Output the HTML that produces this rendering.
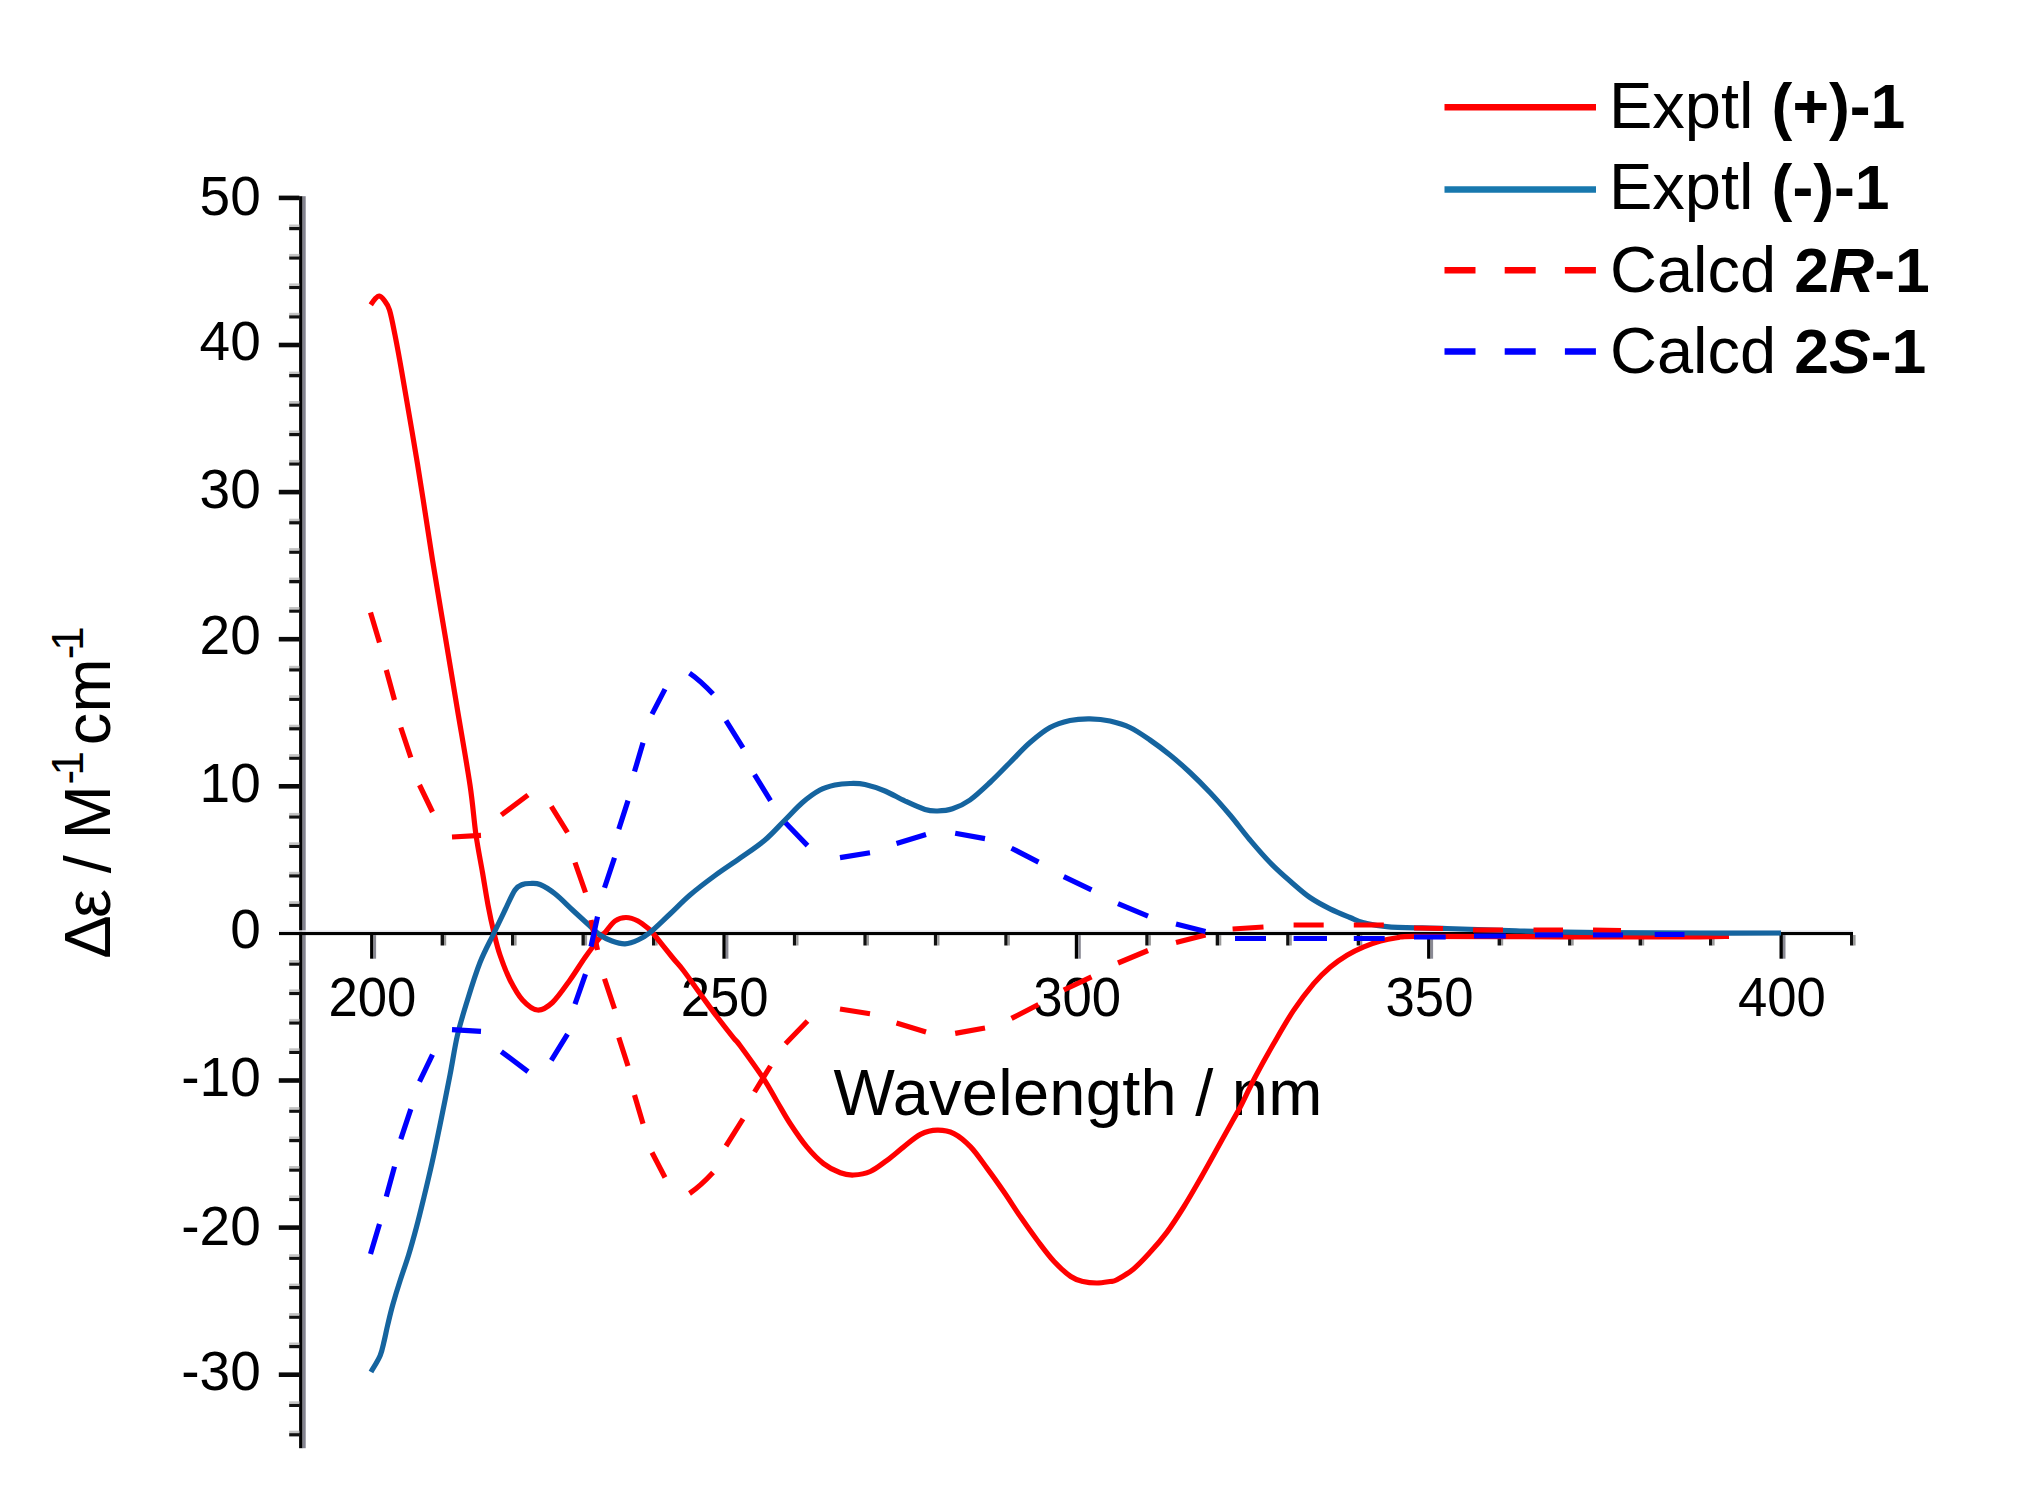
<!DOCTYPE html>
<html><head><meta charset="utf-8"><title>ECD spectra</title>
<style>
html,body{margin:0;padding:0;background:#fff;}
body{width:2039px;height:1496px;overflow:hidden;}
svg{display:block;}
text{font-family:"Liberation Sans",Arial,sans-serif;fill:#000;}
.tk{font-size:54px;}
.tky{font-size:55px;}
.lb{font-size:65px;}
.b{font-weight:bold;font-size:62.5px;}
.bi{font-weight:bold;font-style:italic;font-size:62.5px;}
</style></head>
<body>
<svg width="2039" height="1496" viewBox="0 0 2039 1496">
<rect width="2039" height="1496" fill="#fff"/>
<g id="chart">
<g id="axes">
<rect x="299.1" y="196.2" width="3.5" height="1252.0" fill="#000"/>
<rect x="302.6" y="196.2" width="3.1" height="1252.0" fill="#83838f"/>
<rect x="279" y="931.8" width="1574.0" height="3.3" fill="#000"/>
<rect x="279" y="930.3" width="1574.0" height="1.5" fill="#ececf2"/>
<rect x="289.2" y="1433.1" width="10.2" height="3.3" fill="#111"/><rect x="289.2" y="1430.7" width="10.2" height="2.4" fill="#c4c4c4"/><rect x="289.2" y="1403.7" width="10.2" height="3.3" fill="#111"/><rect x="289.2" y="1401.3" width="10.2" height="2.4" fill="#c4c4c4"/><rect x="278.8" y="1372.4" width="20.6" height="4.6" fill="#0a0a0a"/><rect x="289.2" y="1344.9" width="10.2" height="3.3" fill="#111"/><rect x="289.2" y="1342.5" width="10.2" height="2.4" fill="#c4c4c4"/><rect x="289.2" y="1315.5" width="10.2" height="3.3" fill="#111"/><rect x="289.2" y="1313.1" width="10.2" height="2.4" fill="#c4c4c4"/><rect x="289.2" y="1286.0" width="10.2" height="3.3" fill="#111"/><rect x="289.2" y="1283.6" width="10.2" height="2.4" fill="#c4c4c4"/><rect x="289.2" y="1256.6" width="10.2" height="3.3" fill="#111"/><rect x="289.2" y="1254.2" width="10.2" height="2.4" fill="#c4c4c4"/><rect x="278.8" y="1225.3" width="20.6" height="4.6" fill="#0a0a0a"/><rect x="289.2" y="1197.8" width="10.2" height="3.3" fill="#111"/><rect x="289.2" y="1195.4" width="10.2" height="2.4" fill="#c4c4c4"/><rect x="289.2" y="1168.4" width="10.2" height="3.3" fill="#111"/><rect x="289.2" y="1166.0" width="10.2" height="2.4" fill="#c4c4c4"/><rect x="289.2" y="1138.9" width="10.2" height="3.3" fill="#111"/><rect x="289.2" y="1136.5" width="10.2" height="2.4" fill="#c4c4c4"/><rect x="289.2" y="1109.5" width="10.2" height="3.3" fill="#111"/><rect x="289.2" y="1107.1" width="10.2" height="2.4" fill="#c4c4c4"/><rect x="278.8" y="1078.2" width="20.6" height="4.6" fill="#0a0a0a"/><rect x="289.2" y="1050.7" width="10.2" height="3.3" fill="#111"/><rect x="289.2" y="1048.3" width="10.2" height="2.4" fill="#c4c4c4"/><rect x="289.2" y="1021.3" width="10.2" height="3.3" fill="#111"/><rect x="289.2" y="1018.9" width="10.2" height="2.4" fill="#c4c4c4"/><rect x="289.2" y="991.8" width="10.2" height="3.3" fill="#111"/><rect x="289.2" y="989.4" width="10.2" height="2.4" fill="#c4c4c4"/><rect x="289.2" y="962.4" width="10.2" height="3.3" fill="#111"/><rect x="289.2" y="960.0" width="10.2" height="2.4" fill="#c4c4c4"/><rect x="289.2" y="903.6" width="10.2" height="3.3" fill="#111"/><rect x="289.2" y="901.2" width="10.2" height="2.4" fill="#c4c4c4"/><rect x="289.2" y="874.2" width="10.2" height="3.3" fill="#111"/><rect x="289.2" y="871.8" width="10.2" height="2.4" fill="#c4c4c4"/><rect x="289.2" y="844.7" width="10.2" height="3.3" fill="#111"/><rect x="289.2" y="842.3" width="10.2" height="2.4" fill="#c4c4c4"/><rect x="289.2" y="815.3" width="10.2" height="3.3" fill="#111"/><rect x="289.2" y="812.9" width="10.2" height="2.4" fill="#c4c4c4"/><rect x="278.8" y="784.0" width="20.6" height="4.6" fill="#0a0a0a"/><rect x="289.2" y="756.5" width="10.2" height="3.3" fill="#111"/><rect x="289.2" y="754.1" width="10.2" height="2.4" fill="#c4c4c4"/><rect x="289.2" y="727.1" width="10.2" height="3.3" fill="#111"/><rect x="289.2" y="724.7" width="10.2" height="2.4" fill="#c4c4c4"/><rect x="289.2" y="697.6" width="10.2" height="3.3" fill="#111"/><rect x="289.2" y="695.2" width="10.2" height="2.4" fill="#c4c4c4"/><rect x="289.2" y="668.2" width="10.2" height="3.3" fill="#111"/><rect x="289.2" y="665.8" width="10.2" height="2.4" fill="#c4c4c4"/><rect x="278.8" y="636.9" width="20.6" height="4.6" fill="#0a0a0a"/><rect x="289.2" y="609.4" width="10.2" height="3.3" fill="#111"/><rect x="289.2" y="607.0" width="10.2" height="2.4" fill="#c4c4c4"/><rect x="289.2" y="580.0" width="10.2" height="3.3" fill="#111"/><rect x="289.2" y="577.6" width="10.2" height="2.4" fill="#c4c4c4"/><rect x="289.2" y="550.5" width="10.2" height="3.3" fill="#111"/><rect x="289.2" y="548.1" width="10.2" height="2.4" fill="#c4c4c4"/><rect x="289.2" y="521.1" width="10.2" height="3.3" fill="#111"/><rect x="289.2" y="518.7" width="10.2" height="2.4" fill="#c4c4c4"/><rect x="278.8" y="489.8" width="20.6" height="4.6" fill="#0a0a0a"/><rect x="289.2" y="462.3" width="10.2" height="3.3" fill="#111"/><rect x="289.2" y="459.9" width="10.2" height="2.4" fill="#c4c4c4"/><rect x="289.2" y="432.9" width="10.2" height="3.3" fill="#111"/><rect x="289.2" y="430.5" width="10.2" height="2.4" fill="#c4c4c4"/><rect x="289.2" y="403.4" width="10.2" height="3.3" fill="#111"/><rect x="289.2" y="401.0" width="10.2" height="2.4" fill="#c4c4c4"/><rect x="289.2" y="374.0" width="10.2" height="3.3" fill="#111"/><rect x="289.2" y="371.6" width="10.2" height="2.4" fill="#c4c4c4"/><rect x="278.8" y="342.7" width="20.6" height="4.6" fill="#0a0a0a"/><rect x="289.2" y="315.2" width="10.2" height="3.3" fill="#111"/><rect x="289.2" y="312.8" width="10.2" height="2.4" fill="#c4c4c4"/><rect x="289.2" y="285.8" width="10.2" height="3.3" fill="#111"/><rect x="289.2" y="283.4" width="10.2" height="2.4" fill="#c4c4c4"/><rect x="289.2" y="256.3" width="10.2" height="3.3" fill="#111"/><rect x="289.2" y="253.9" width="10.2" height="2.4" fill="#c4c4c4"/><rect x="289.2" y="226.9" width="10.2" height="3.3" fill="#111"/><rect x="289.2" y="224.5" width="10.2" height="2.4" fill="#c4c4c4"/><rect x="278.8" y="195.6" width="20.6" height="4.6" fill="#0a0a0a"/>
<rect x="370.1" y="935" width="3.4" height="23.7" fill="#000"/><rect x="373.5" y="935" width="2.6" height="23.7" fill="#8a8a94"/><rect x="440.6" y="935" width="3.4" height="10.5" fill="#111"/><rect x="444.0" y="935" width="2.2" height="10.5" fill="#9a9a9a"/><rect x="511.0" y="935" width="3.4" height="10.5" fill="#111"/><rect x="514.4" y="935" width="2.2" height="10.5" fill="#9a9a9a"/><rect x="581.5" y="935" width="3.4" height="10.5" fill="#111"/><rect x="584.9" y="935" width="2.2" height="10.5" fill="#9a9a9a"/><rect x="652.0" y="935" width="3.4" height="10.5" fill="#111"/><rect x="655.4" y="935" width="2.2" height="10.5" fill="#9a9a9a"/><rect x="722.4" y="935" width="3.4" height="23.7" fill="#000"/><rect x="725.8" y="935" width="2.6" height="23.7" fill="#8a8a94"/><rect x="792.9" y="935" width="3.4" height="10.5" fill="#111"/><rect x="796.3" y="935" width="2.2" height="10.5" fill="#9a9a9a"/><rect x="863.4" y="935" width="3.4" height="10.5" fill="#111"/><rect x="866.8" y="935" width="2.2" height="10.5" fill="#9a9a9a"/><rect x="933.9" y="935" width="3.4" height="10.5" fill="#111"/><rect x="937.3" y="935" width="2.2" height="10.5" fill="#9a9a9a"/><rect x="1004.3" y="935" width="3.4" height="10.5" fill="#111"/><rect x="1007.7" y="935" width="2.2" height="10.5" fill="#9a9a9a"/><rect x="1074.8" y="935" width="3.4" height="23.7" fill="#000"/><rect x="1078.2" y="935" width="2.6" height="23.7" fill="#8a8a94"/><rect x="1145.3" y="935" width="3.4" height="10.5" fill="#111"/><rect x="1148.7" y="935" width="2.2" height="10.5" fill="#9a9a9a"/><rect x="1215.7" y="935" width="3.4" height="10.5" fill="#111"/><rect x="1219.1" y="935" width="2.2" height="10.5" fill="#9a9a9a"/><rect x="1286.2" y="935" width="3.4" height="10.5" fill="#111"/><rect x="1289.6" y="935" width="2.2" height="10.5" fill="#9a9a9a"/><rect x="1356.7" y="935" width="3.4" height="10.5" fill="#111"/><rect x="1360.1" y="935" width="2.2" height="10.5" fill="#9a9a9a"/><rect x="1427.1" y="935" width="3.4" height="23.7" fill="#000"/><rect x="1430.5" y="935" width="2.6" height="23.7" fill="#8a8a94"/><rect x="1497.6" y="935" width="3.4" height="10.5" fill="#111"/><rect x="1501.0" y="935" width="2.2" height="10.5" fill="#9a9a9a"/><rect x="1568.1" y="935" width="3.4" height="10.5" fill="#111"/><rect x="1571.5" y="935" width="2.2" height="10.5" fill="#9a9a9a"/><rect x="1638.6" y="935" width="3.4" height="10.5" fill="#111"/><rect x="1642.0" y="935" width="2.2" height="10.5" fill="#9a9a9a"/><rect x="1709.0" y="935" width="3.4" height="10.5" fill="#111"/><rect x="1712.4" y="935" width="2.2" height="10.5" fill="#9a9a9a"/><rect x="1779.5" y="935" width="3.4" height="23.7" fill="#000"/><rect x="1782.9" y="935" width="2.6" height="23.7" fill="#8a8a94"/><rect x="1850.0" y="935" width="3.4" height="10.5" fill="#111"/><rect x="1853.4" y="935" width="2.2" height="10.5" fill="#9a9a9a"/>
</g>
<g id="ticklabels" class="tk">
<text class="tky" x="260.8" y="1389.7" text-anchor="end">-30</text><text class="tky" x="260.8" y="1244.5" text-anchor="end">-20</text><text class="tky" x="260.8" y="1096.2" text-anchor="end">-10</text><text class="tky" x="260.8" y="947.6" text-anchor="end">0</text><text class="tky" x="260.8" y="802.0" text-anchor="end">10</text><text class="tky" x="260.8" y="653.9" text-anchor="end">20</text><text class="tky" x="260.8" y="508.4" text-anchor="end">30</text><text class="tky" x="260.8" y="360.1" text-anchor="end">40</text><text class="tky" x="260.8" y="214.5" text-anchor="end">50</text>
<text class="tk" transform="translate(372.4,1015.6) scale(0.975,1.03)" text-anchor="middle">200</text><text class="tk" transform="translate(724.7,1015.6) scale(0.975,1.03)" text-anchor="middle">250</text><text class="tk" transform="translate(1077.1,1015.6) scale(0.975,1.03)" text-anchor="middle">300</text><text class="tk" transform="translate(1429.5,1015.6) scale(0.975,1.03)" text-anchor="middle">350</text><text class="tk" transform="translate(1781.8,1015.6) scale(0.975,1.03)" text-anchor="middle">400</text>
</g>
<text class="lb" x="833.5" y="1115.3" letter-spacing="0.25">Wavelength / nm</text>
<text class="lb" transform="translate(110.2,1000) rotate(-90)"><tspan x="41.30">Δ</tspan><tspan x="82.00">ε</tspan><tspan x="126.85">/</tspan><tspan x="160.75">M</tspan><tspan x="215.50" dy="-27.5" font-size="44">-</tspan><tspan x="224.50" font-size="44">1</tspan><tspan x="254.65" dy="27.5">c</tspan><tspan x="287.55">m</tspan><tspan x="340.75" dy="-27.5" font-size="44">-</tspan><tspan x="349.20" font-size="44">1</tspan></text>
<g id="curves" fill="none" stroke-width="5.2" stroke-linejoin="round">
<path stroke="#ff0000" d="M370.7,304.8 C371.4,303.8 373.6,300.5 375.0,299.0 C376.4,297.5 377.8,295.8 379.3,296.0 C380.8,296.2 382.3,297.7 384.0,300.0 C385.7,302.3 387.7,304.2 389.5,310.0 C391.3,315.8 393.0,324.9 395.0,335.0 C397.0,345.1 397.8,348.8 401.5,370.3 C405.2,391.8 412.3,432.4 417.5,464.0 C422.7,495.6 427.9,531.5 432.5,560.0 C437.1,588.5 440.8,610.0 445.0,635.0 C449.2,660.0 453.3,685.0 457.5,710.0 C461.7,735.0 466.9,764.2 470.0,785.0 C473.1,805.8 473.9,820.4 476.0,835.0 C478.1,849.6 480.5,860.8 482.5,872.5 C484.5,884.2 486.1,894.9 488.0,905.0 C489.9,915.1 492.0,924.7 494.0,933.0 C496.0,941.3 497.3,947.2 500.0,955.0 C502.7,962.8 506.2,972.5 510.0,980.0 C513.8,987.5 517.9,995.0 522.5,1000.0 C527.1,1005.0 532.5,1009.6 537.5,1010.0 C542.5,1010.4 547.1,1007.5 552.5,1002.5 C557.9,997.5 564.6,987.5 570.0,980.0 C575.4,972.5 580.0,964.6 585.0,957.5 C590.0,950.4 596.7,941.7 600.0,937.5 C603.3,933.3 602.5,935.2 605.0,932.5 C607.5,929.8 611.5,923.5 615.0,921.0 C618.5,918.5 622.2,917.5 626.0,917.5 C629.8,917.5 634.0,918.9 638.0,921.0 C642.0,923.1 647.6,928.1 650.0,930.0 C652.4,931.9 648.8,927.9 652.5,932.5 C656.2,937.1 667.4,951.2 672.5,957.5 C677.6,963.8 678.8,964.5 683.4,970.5 C688.0,976.5 694.4,985.8 700.0,993.5 C705.6,1001.2 711.2,1009.1 716.8,1016.5 C722.4,1023.9 729.6,1033.0 733.5,1037.8 C737.4,1042.6 735.0,1038.7 740.0,1045.5 C745.0,1052.3 757.2,1069.1 763.4,1078.4 C769.6,1087.7 772.5,1094.0 777.0,1101.5 C781.5,1109.0 785.1,1115.9 790.1,1123.5 C795.1,1131.1 801.2,1140.2 806.8,1146.9 C812.4,1153.6 817.9,1159.3 823.5,1163.6 C829.1,1167.9 835.3,1170.9 840.3,1172.8 C845.3,1174.7 848.6,1175.2 853.6,1175.0 C858.6,1174.8 864.7,1174.0 870.3,1171.5 C875.9,1169.0 881.4,1164.4 887.0,1160.3 C892.6,1156.2 898.1,1151.2 903.7,1146.9 C909.3,1142.6 914.9,1137.2 920.5,1134.4 C926.1,1131.6 931.6,1130.3 937.2,1130.2 C942.8,1130.1 948.3,1130.8 953.9,1133.6 C959.5,1136.4 965.0,1141.1 970.6,1146.9 C976.2,1152.7 981.7,1161.1 987.3,1168.6 C992.9,1176.1 998.4,1183.9 1004.0,1192.0 C1009.6,1200.1 1015.1,1209.0 1020.7,1217.1 C1026.3,1225.2 1031.8,1233.1 1037.4,1240.5 C1043.0,1247.9 1048.5,1255.5 1054.1,1261.5 C1059.7,1267.5 1066.0,1273.2 1070.8,1276.5 C1075.6,1279.8 1078.7,1280.4 1083.0,1281.5 C1087.3,1282.6 1092.3,1283.0 1096.8,1283.0 C1101.3,1283.0 1106.7,1282.0 1110.0,1281.5 C1113.3,1281.0 1113.0,1281.8 1116.9,1279.7 C1120.8,1277.6 1128.0,1273.5 1133.6,1268.9 C1139.2,1264.3 1144.7,1258.2 1150.3,1252.1 C1155.9,1246.0 1161.4,1239.6 1167.0,1232.1 C1172.6,1224.6 1178.1,1215.9 1183.7,1207.0 C1189.3,1198.1 1195.2,1187.7 1200.4,1178.6 C1205.6,1169.5 1209.7,1162.1 1215.0,1152.5 C1220.3,1142.9 1228.3,1128.5 1232.5,1121.0 C1236.7,1113.5 1236.2,1114.8 1240.0,1107.5 C1243.8,1100.2 1249.6,1087.6 1255.2,1077.0 C1260.8,1066.4 1267.2,1054.9 1273.6,1043.8 C1280.0,1032.7 1286.9,1020.4 1293.6,1010.4 C1300.3,1000.4 1307.6,990.8 1313.7,983.6 C1319.8,976.4 1324.9,971.7 1330.4,967.0 C1336.0,962.3 1341.4,958.6 1347.0,955.2 C1352.6,951.9 1358.2,949.3 1363.8,946.9 C1369.4,944.5 1375.0,942.5 1380.5,941.0 C1386.0,939.5 1391.4,938.5 1397.0,937.7 C1402.6,936.9 1396.8,936.5 1414.0,936.3 C1431.2,936.1 1465.5,936.5 1500.0,936.6 C1534.5,936.7 1587.7,937.0 1621.0,937.0 C1654.3,937.0 1682.0,936.9 1700.0,936.8 C1718.0,936.7 1724.2,936.4 1729.0,936.3"/>
<path stroke="#15649f" d="M371.0,1372.0 C372.5,1369.2 378.0,1360.7 380.2,1355.4 C382.4,1350.1 383.1,1345.1 384.4,1340.0 C385.6,1334.9 386.3,1330.8 387.7,1325.0 C389.1,1319.2 390.6,1312.5 392.7,1305.0 C394.8,1297.5 397.6,1288.3 400.3,1280.0 C403.0,1271.7 405.9,1263.8 408.6,1255.0 C411.3,1246.2 413.9,1236.7 416.5,1227.0 C419.1,1217.3 421.4,1207.7 424.0,1197.0 C426.6,1186.3 429.3,1175.0 432.0,1163.0 C434.7,1151.0 437.0,1139.7 440.0,1125.0 C443.0,1110.3 447.1,1090.0 450.0,1075.0 C452.9,1060.0 454.6,1047.5 457.5,1035.0 C460.4,1022.5 463.8,1012.1 467.5,1000.0 C471.2,987.9 475.6,973.7 480.0,962.5 C484.4,951.3 489.8,941.8 494.0,933.0 C498.2,924.2 501.5,917.2 505.0,910.0 C508.5,902.8 512.1,894.2 515.0,890.0 C517.9,885.8 520.0,885.6 522.5,884.5 C525.0,883.4 527.1,883.5 530.0,883.5 C532.9,883.5 535.8,882.8 540.0,884.5 C544.2,886.2 549.6,889.5 555.0,893.8 C560.4,898.0 566.7,904.6 572.5,910.0 C578.3,915.4 585.4,921.8 590.0,926.0 C594.6,930.2 596.3,932.5 600.0,935.0 C603.7,937.5 607.8,939.5 612.0,941.0 C616.2,942.5 620.7,944.0 625.0,943.8 C629.3,943.6 633.8,941.9 638.0,940.0 C642.2,938.1 644.7,936.8 650.0,932.5 C655.3,928.2 663.3,920.2 670.0,914.0 C676.7,907.8 682.5,901.4 690.0,895.0 C697.5,888.6 706.7,881.6 715.0,875.5 C723.3,869.4 731.7,864.1 740.0,858.2 C748.3,852.3 757.5,846.4 765.0,840.0 C772.5,833.6 778.8,826.2 785.0,820.0 C791.2,813.8 796.7,807.5 802.5,802.5 C808.3,797.5 814.6,792.9 820.0,790.0 C825.4,787.1 830.0,786.1 835.0,785.0 C840.0,783.9 845.0,783.6 850.0,783.5 C855.0,783.4 859.2,783.2 865.0,784.5 C870.8,785.8 878.3,788.2 885.0,791.0 C891.7,793.8 898.3,797.9 905.0,801.0 C911.7,804.1 919.6,807.8 925.0,809.5 C930.4,811.2 932.9,811.1 937.5,811.0 C942.1,810.9 947.1,810.6 952.5,808.8 C957.9,807.0 963.8,804.4 970.0,800.0 C976.2,795.6 983.3,788.8 990.0,782.5 C996.7,776.2 1003.3,769.2 1010.0,762.5 C1016.7,755.8 1023.3,748.3 1030.0,742.5 C1036.7,736.7 1043.3,731.2 1050.0,727.5 C1056.7,723.8 1063.3,722.0 1070.0,720.5 C1076.7,719.0 1083.3,718.7 1090.0,718.8 C1096.7,718.9 1103.3,719.5 1110.0,721.0 C1116.7,722.5 1123.3,724.3 1130.0,727.5 C1136.7,730.7 1143.3,735.4 1150.0,740.0 C1156.7,744.6 1163.3,749.6 1170.0,755.0 C1176.7,760.4 1183.3,766.2 1190.0,772.5 C1196.7,778.8 1203.3,785.4 1210.0,792.5 C1216.7,799.6 1223.3,807.1 1230.0,815.0 C1236.7,822.9 1243.3,832.1 1250.0,840.0 C1256.7,847.9 1263.3,855.7 1270.0,862.5 C1276.7,869.3 1283.3,875.2 1290.0,881.0 C1296.7,886.8 1303.3,892.9 1310.0,897.5 C1316.7,902.1 1323.3,905.5 1330.0,908.8 C1336.7,912.1 1344.4,915.2 1350.0,917.5 C1355.6,919.8 1357.3,921.2 1363.8,922.7 C1370.3,924.2 1375.0,925.8 1388.9,926.8 C1402.8,927.8 1425.2,927.8 1447.0,928.5 C1468.8,929.2 1494.5,930.3 1520.0,931.0 C1545.5,931.7 1570.0,932.3 1600.0,932.6 C1630.0,932.9 1669.8,932.9 1700.0,933.0 C1730.2,933.1 1767.5,933.0 1781.0,933.0"/>
<path stroke="#ff0000" d="M370.5,612.5 L379.5,642.5 M386.3,670.0 L394.5,700.0 M400.8,727.5 L410.8,757.5 M419.5,785.0 L432.5,812.0 M452.0,837.0 L481.0,835.3 M501.3,815.0 L528.0,795.0 M551.3,806.3 L567.5,832.5 M575.0,862.5 L585.5,892.5 M591.0,920.0 L597.5,950.0 M604.5,978.8 L614.5,1008.8 M618.8,1037.5 L628.0,1066.0 M634.5,1095.0 L643.0,1123.8 M652.0,1152.5 L665.0,1177.5 M689.5,1193.5 Q700.5,1186.0 713.0,1172.5 M726.0,1146.0 L743.0,1118.8 M754.5,1092.0 L770.5,1066.0 M785.5,1043.8 L807.5,1021.0 M840.0,1009.0 L870.0,1013.8 M896.5,1023.0 L926.0,1032.0 M955.2,1033.4 L985.0,1028.0 M1011.5,1018.4 L1038.5,1004.5 M1063.8,990.0 L1091.5,976.8 M1118.0,963.0 L1148.0,950.5 M1176.0,942.5 L1205.5,935.0 M1232.6,929.0 L1263.5,927.0 M1293.6,925.0 L1323.7,925.0 M1353.8,925.0 L1383.8,925.0 M1414.0,928.0 L1443.0,928.5 M1473.0,930.0 L1503.0,930.0 M1533.5,930.0 L1563.0,930.0 M1593.0,930.0 L1621.0,930.5"/>
<path stroke="#0000ff" d="M370.5,1254.1 L379.5,1224.1 M386.3,1196.6 L394.5,1166.6 M400.8,1139.1 L410.8,1109.1 M419.5,1081.6 L432.5,1054.6 M452.0,1029.6 L481.0,1031.3 M501.3,1051.6 L528.0,1071.6 M551.3,1060.3 L567.5,1034.1 M575.0,1004.1 L585.5,974.1 M591.0,946.6 L597.5,916.6 M604.5,887.8 L614.5,857.8 M618.8,829.1 L628.0,800.6 M634.5,771.6 L643.0,742.8 M652.0,714.1 L665.0,689.1 M689.5,673.1 Q700.5,680.6 713.0,694.1 M726.0,720.6 L743.0,747.8 M754.5,774.6 L770.5,800.6 M785.5,822.8 L807.5,845.6 M840.0,857.6 L870.0,852.8 M896.5,843.6 L926.0,834.6 M955.2,833.2 L985.0,838.6 M1011.5,848.2 L1038.5,862.1 M1063.8,876.6 L1091.5,889.8 M1118.0,903.6 L1148.0,916.1 M1176.0,924.1 L1205.5,931.6 M1235.0,938.5 L1266.0,938.5 M1293.6,938.5 L1327.0,938.5 M1353.8,938.5 L1384.7,938.5 M1414.0,937.0 L1445.7,937.0 M1474.0,936.0 L1505.8,936.0 M1535.0,935.0 L1563.0,935.0 M1593.0,935.0 L1623.0,935.0 M1654.7,934.5 L1684.5,934.5"/>
</g>
<g id="legend">
<line x1="1444.5" x2="1596" y1="107.3" y2="107.3" stroke="#ff0000" stroke-width="6.5"/>
<line x1="1444.5" x2="1596" y1="189.6" y2="189.6" stroke="#1878ae" stroke-width="6.5"/>
<line x1="1444.5" x2="1596" y1="270.2" y2="270.2" stroke="#ff0000" stroke-width="6.5" stroke-dasharray="31 29.2"/>
<line x1="1444.5" x2="1596" y1="351.4" y2="351.4" stroke="#0000ff" stroke-width="6.5" stroke-dasharray="31 29.2"/>
<text class="lb" x="1609" y="127.7">Exptl <tspan class="b">(+)-1</tspan></text>
<text class="lb" x="1609" y="209.0">Exptl <tspan class="b">(-)-1</tspan></text>
<text class="lb" x="1610" y="291.8">Calcd <tspan class="b">2</tspan><tspan class="bi">R</tspan><tspan class="b">-1</tspan></text>
<text class="lb" x="1610" y="373.3">Calcd <tspan class="b">2</tspan><tspan class="bi">S</tspan><tspan class="b">-1</tspan></text>
</g>
</g>
</svg>
</body></html>
